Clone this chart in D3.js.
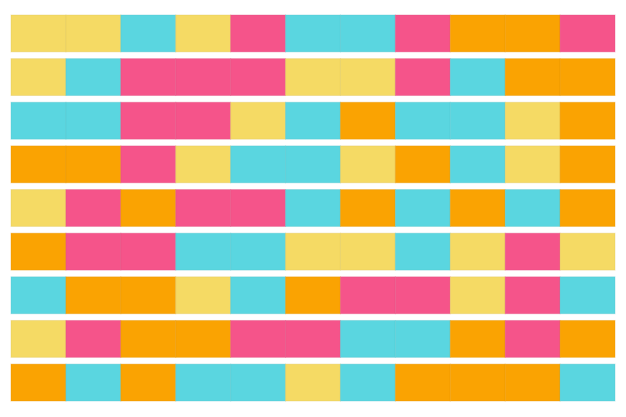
<!DOCTYPE html>
<html>
<head>
<meta charset="utf-8">
<script src="https://cdn.jsdelivr.net/npm/d3@7"></script>
<style>
  body { margin: 0; background: #fff; }
</style>
</head>
<body>
<div id="chart"></div>
<script>
// categories shown by colour
var groups = ['yellow', 'cyan', 'pink', 'orange'];
var columns = d3.range(11);

// one array per row, group of each cell left to right
var row1 = ['yellow', 'yellow', 'cyan', 'yellow', 'pink', 'cyan', 'cyan', 'pink', 'orange', 'orange', 'pink'];
var row2 = ['yellow', 'cyan', 'pink', 'pink', 'pink', 'yellow', 'yellow', 'pink', 'cyan', 'orange', 'orange'];
var row3 = ['cyan', 'cyan', 'pink', 'pink', 'yellow', 'cyan', 'orange', 'cyan', 'cyan', 'yellow', 'orange'];
var row4 = ['orange', 'orange', 'pink', 'yellow', 'cyan', 'cyan', 'yellow', 'orange', 'cyan', 'yellow', 'orange'];
var row5 = ['yellow', 'pink', 'orange', 'pink', 'pink', 'cyan', 'orange', 'cyan', 'orange', 'cyan', 'orange'];
var row6 = ['orange', 'pink', 'pink', 'cyan', 'cyan', 'yellow', 'yellow', 'cyan', 'yellow', 'pink', 'yellow'];
var row7 = ['cyan', 'orange', 'orange', 'yellow', 'cyan', 'orange', 'pink', 'pink', 'yellow', 'pink', 'cyan'];
var row8 = ['yellow', 'pink', 'orange', 'orange', 'pink', 'pink', 'cyan', 'cyan', 'orange', 'pink', 'orange'];
var row9 = ['orange', 'cyan', 'orange', 'cyan', 'cyan', 'yellow', 'cyan', 'orange', 'orange', 'orange', 'cyan'];

var rows = [row1, row2, row3, row4, row5, row6, row7, row8, row9];

var width = 626,
	height = 417,
	margin = { top: 15, right: 11, bottom: 16, left: 11 };

var svg = d3
	.select('#chart')
	.append('svg')
	.attr('width', width)
	.attr('height', height);

//X scale, one band per column
var x = d3.scaleBand().domain(columns).range([margin.left, width - margin.right]).padding(0);

//Y scale, one band per row with gaps
var y = d3
	.scaleBand()
	.domain(d3.range(rows.length))
	.range([margin.top, height - margin.bottom])
	.paddingInner(0.155)
	.paddingOuter(0);

var color = d3.scaleOrdinal().domain(groups).range(['#f5da64', '#5ad6e0', '#f5548a', '#faa302']);

//flatten rows to cells
var cells = [];
rows.forEach(function(r, i) {
	r.forEach(function(g, j) {
		cells.push({ row: i, col: j, group: g });
	});
});

svg
	.append('g')
	.selectAll('rect')
	.data(cells)
	.enter()
	.append('rect')
	.attr('x', function(d) {
		return x(d.col);
	})
	.attr('y', function(d) {
		return y(d.row);
	})
	.attr('width', x.bandwidth())
	.attr('height', y.bandwidth())
	.attr('fill', function(d) {
		return color(d.group);
	})
	.attr('stroke', function(d) {
		return d3.color(color(d.group)).darker(0.3);
	})
	.attr('stroke-opacity', 0.35)
	.attr('stroke-width', 1);
</script>
</body>
</html>
